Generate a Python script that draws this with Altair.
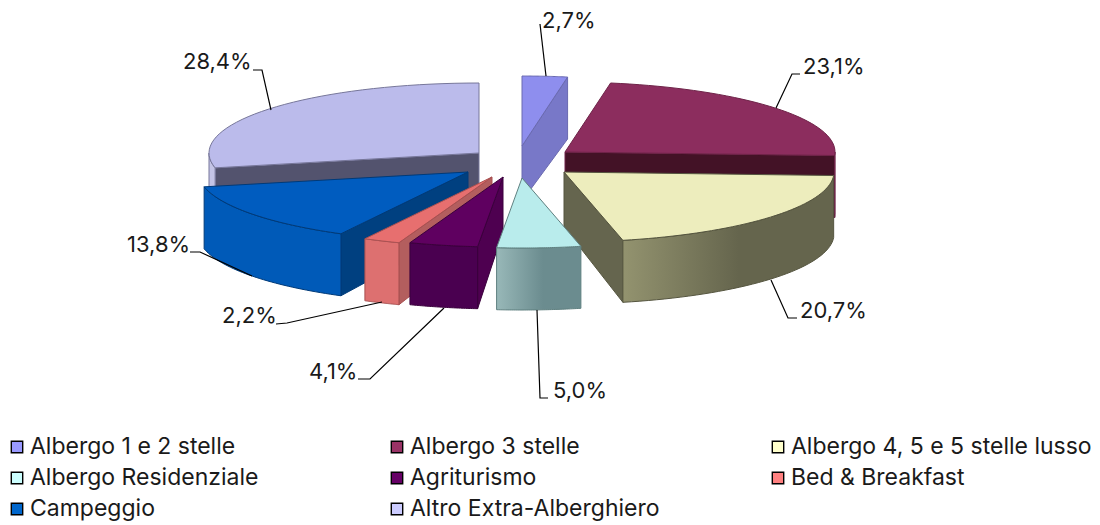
import math
import altair as alt
import pandas as pd

categories = ["Albergo 1 e 2 stelle", "Albergo 3 stelle", "Albergo 4, 5 e 5 stelle lusso",
              "Albergo Residenziale", "Agriturismo", "Bed & Breakfast", "Campeggio",
              "Altro Extra-Alberghiero"]
shares = [2.7, 23.1, 20.7, 5.0, 4.1, 2.2, 13.8, 28.4]
legend_colors = ["#9999ff", "#993366", "#ffffcc", "#ccffff", "#660066", "#ff8080", "#0066cc", "#ccccff"]

# Layout of the exploded 3D pie, in page pixels
tips = [(522, 146), (565, 152), (564, 172), (522, 178), (503, 177), (492, 177), (468, 172), (479, 153)]
top_colors = ["#8e8eee", "#8c2d5e", "#ededbd", "#b9ecec", "#5f0060", "#e76f6f", "#005cbf", "#bbbbeb"]
top_edges = ["#6a6ab0", "#6e2348", "#55553f", "#5f8080", "#3a003c", "#a85050", "#003a78", "#77779a"]
radial_colors = ["#7878c8", "#431226", "#65654e", "#000000", "#4e0050", "#b35e5e", "#004080", "#53536e"]
wall_colors = ["#7878c8", "#2c0c1a", ("#93936f", "#65654d"), ("#98b8b8", "#6b8c8f"),
               "#4a0050", "#dd7070", "#005ab8", "#c4c4e6"]
paint_order = [7, 0, 1, 2, 6, 5, 4, 3]
RX, RY, DEPTH, TIP_DEPTH = 270, 70, 62, 55
PAGE_W, PAGE_H = 1084, 514

x_scale = alt.Scale(domain=[8, 8 + PAGE_W], range=[0, PAGE_W], nice=False)
y_scale = alt.Scale(domain=[8, 8 + PAGE_H], range=[0, PAGE_H], nice=False)


def rim(tip, a, dy=0):
    return (tip[0] + RX * math.sin(a), tip[1] - RY * math.cos(a) + dy)


def arc(tip, a0, a1, dy=0, n=40):
    return [rim(tip, a0 + (a1 - a0) * i / n, dy) for i in range(n + 1)]


def face(points, fill, stroke, width=1.0):
    df = pd.DataFrame({"x": [p[0] for p in points] + [points[0][0]],
                       "y": [p[1] for p in points] + [points[0][1]]})
    df["i"] = range(len(df))
    if isinstance(fill, tuple):
        fill = alt.Gradient(gradient="linear", x1=0, x2=1, y1=0, y2=0,
                            stops=[alt.GradientStop(color=fill[0], offset=0),
                                   alt.GradientStop(color=fill[1], offset=0.55),
                                   alt.GradientStop(color=fill[1], offset=1)])
    return alt.Chart(df).mark_line(fill=fill, stroke=stroke, strokeWidth=width).encode(
        x=alt.X("x:Q", scale=x_scale, axis=None),
        y=alt.Y("y:Q", scale=y_scale, axis=None),
        order="i:Q")


def polyline(points, color="#000000", width=1.2):
    df = pd.DataFrame({"x": [p[0] for p in points], "y": [p[1] for p in points]})
    df["i"] = range(len(df))
    return alt.Chart(df).mark_line(stroke=color, strokeWidth=width).encode(
        x=alt.X("x:Q", scale=x_scale, axis=None),
        y=alt.Y("y:Q", scale=y_scale, axis=None),
        order="i:Q")


# Angular extent of each slice from the shares
starts, cum = [], 0.0
for s in shares:
    starts.append(cum)
    cum += s
angles = [(2 * math.pi * a / 100, 2 * math.pi * (a + s) / 100) for a, s in zip(starts, shares)]

layers = []
for k in paint_order:
    a0, a1 = angles[k]
    tip = tips[k]
    edge = top_edges[k]
    # radial wall facing the viewer
    if a1 < math.pi:
        p = rim(tip, a1)
        layers.append(face([tip, p, (p[0], p[1] + DEPTH), (tip[0], tip[1] + TIP_DEPTH)], radial_colors[k], edge))
    if a0 > math.pi:
        p = rim(tip, a0)
        layers.append(face([tip, p, (p[0], p[1] + DEPTH), (tip[0], tip[1] + TIP_DEPTH)], radial_colors[k], edge))
    # outer wall (front half of the rim)
    w0, w1 = max(a0, math.pi / 2), min(a1, 1.5 * math.pi)
    if w1 > w0:
        layers.append(face(arc(tip, w0, w1) + arc(tip, w1, w0, DEPTH), wall_colors[k], edge))
    # top face
    layers.append(face([tip] + arc(tip, a0, a1), top_colors[k], edge))

# Leader lines, one per slice
leaders = [
    [(540, 24), (546, 76)],
    [(776, 108), (792, 74), (800, 74)],
    [(771, 280), (788, 318), (797, 318)],
    [(537, 310), (540, 398), (548, 398)],
    [(444, 308), (370, 379), (358, 379)],
    [(382, 302), (287, 323), (276, 324)],
    [(252, 276), (200, 252), (190, 252)],
    [(271, 110), (262, 70), (253, 70)],
]
layers += [polyline(p) for p in leaders]

label_x = [542, 803, 800, 553, 309, 222, 127, 183]
label_y = [21, 67, 311, 391, 372, 316, 245, 62]
labels = pd.DataFrame({"x": label_x, "y": label_y,
                       "t": [f"{s:.1f}%".replace(".", ",") for s in shares]})
layers.append(alt.Chart(labels).mark_text(align="left", baseline="middle", font="Inter", fontSize=22,
                                          color="#1a1a1a").encode(
    x=alt.X("x:Q", scale=x_scale, axis=None), y=alt.Y("y:Q", scale=y_scale, axis=None), text="t:N"))

# Legend, three columns
col_x = [17, 397, 778]
row_y = [447, 478, 509]
legend = pd.DataFrame({
    "cat": categories,
    "color": legend_colors,
    "x": [col_x[i % 3] for i in range(8)],
    "y": [row_y[i // 3] for i in range(8)],
})
legend["tx"] = legend["x"] + 13
layers.append(alt.Chart(legend).mark_square(size=130, stroke="#000000", strokeWidth=1.4, opacity=1).encode(
    x=alt.X("x:Q", scale=x_scale, axis=None), y=alt.Y("y:Q", scale=y_scale, axis=None),
    fill=alt.Fill("color:N", scale=None)))
layers.append(alt.Chart(legend).mark_text(align="left", baseline="middle", font="Inter", fontSize=23,
                                          color="#1a1a1a").encode(
    x=alt.X("tx:Q", scale=x_scale, axis=None), y=alt.Y("y:Q", scale=y_scale, axis=None), text="cat:N"))

chart = alt.layer(*layers).properties(
    width=PAGE_W, height=PAGE_H, padding=0,
    autosize=alt.AutoSizeParams(type="none"),
    background="#ffffff",
).configure_view(stroke=None)

chart.save("out.html", embed_options={"renderer": "svg", "actions": False})
